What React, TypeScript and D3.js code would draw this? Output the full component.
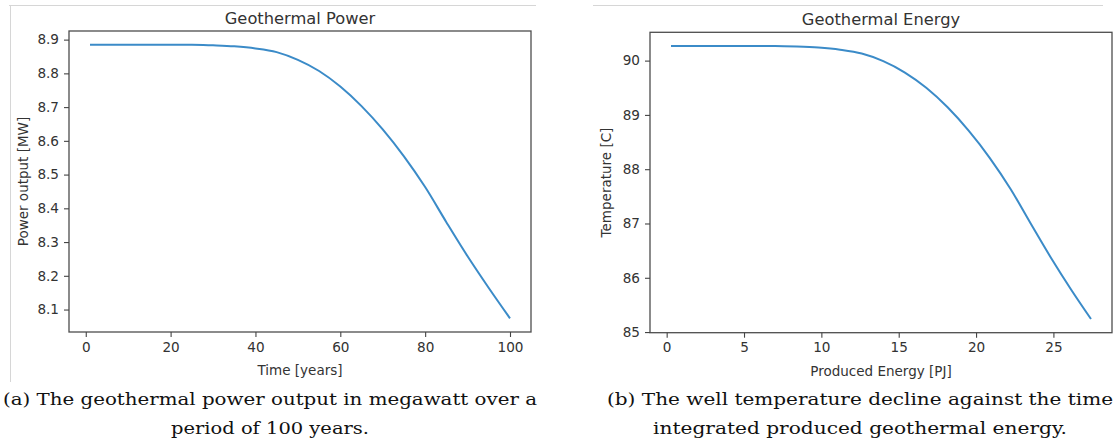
import { useRef, useEffect } from "react";
import * as d3 from "d3";

// Geothermal power over time
const years = [1, 10, 20, 25, 30, 35, 40, 45, 50, 55, 60, 65, 70, 75, 80, 85, 90, 95, 100];
const powerMW = [
    8.885, 8.885, 8.885, 8.885, 8.883, 8.88, 8.874, 8.863, 8.84, 8.807, 8.761, 8.703, 8.634,
    8.554, 8.463, 8.359, 8.258, 8.164, 8.074,
];

// Well temperature against produced energy
const producedPJ = [
    0.28, 2.8, 5.6, 7.0, 8.41, 9.81, 11.21, 12.61, 14.0, 15.4, 16.78, 18.16, 19.52, 20.88, 22.22,
    23.55, 24.86, 26.15, 27.43,
];
const temperatureC = [
    90.27, 90.27, 90.27, 90.27, 90.26, 90.24, 90.2, 90.13, 89.99, 89.78, 89.5, 89.14, 88.71, 88.21,
    87.64, 86.99, 86.36, 85.78, 85.24,
];

const powerXTicks = [0, 20, 40, 60, 80, 100];
const powerYTicks = [8.1, 8.2, 8.3, 8.4, 8.5, 8.6, 8.7, 8.8, 8.9];
const energyXTicks = [0, 5, 10, 15, 20, 25];
const energyYTicks = [85, 86, 87, 88, 89, 90];

const captionA = ["(a) The geothermal power output in megawatt over a", "period of 100 years."];
const captionB = [
    "(b) The well temperature decline against the time",
    "integrated produced geothermal energy.",
];

const SANS = "DejaVu Sans, sans-serif";
const SERIF = "DejaVu Serif, serif";
const TEXT = "#333";
const LINE = "#3b8bc8";

// matplotlib style 5% margin around the data
function padded(values: number[]): [number, number] {
    const [a, b] = d3.extent(values) as [number, number];
    const m = (b - a) * 0.05;
    return [a - m, b + m];
}

interface AxisProps {
    scale: d3.ScaleLinear<number, number>;
    ticks: number[];
    format: (d: number) => string;
    transform?: string;
}

function styleAxis(g: d3.Selection<SVGGElement, unknown, null, undefined>) {
    g.attr("font-size", 13.6).attr("font-family", SANS);
    g.select(".domain").remove();
    g.selectAll(".tick line").attr("stroke", "#444").attr("stroke-width", 1.1);
    g.selectAll(".tick text").attr("fill", TEXT);
}

function AxisBottom({ scale, ticks, format, transform }: AxisProps) {
    const ref = useRef<SVGGElement>(null);
    useEffect(() => {
        if (ref.current) {
            const g = d3.select(ref.current);
            g.call(
                d3
                    .axisBottom(scale)
                    .tickValues(ticks)
                    .tickSize(5)
                    .tickPadding(5)
                    .tickFormat((d) => format(d as number))
            );
            styleAxis(g);
        }
    }, [scale, ticks, format]);
    return <g ref={ref} transform={transform} />;
}

function AxisLeft({ scale, ticks, format }: AxisProps) {
    const ref = useRef<SVGGElement>(null);
    useEffect(() => {
        if (ref.current) {
            const g = d3.select(ref.current);
            g.call(
                d3
                    .axisLeft(scale)
                    .tickValues(ticks)
                    .tickSize(5)
                    .tickPadding(5)
                    .tickFormat((d) => format(d as number))
            );
            styleAxis(g);
        }
    }, [scale, ticks, format]);
    return <g ref={ref} />;
}

interface PanelProps {
    left: number;
    top: number;
    width: number;
    height: number;
    xs: number[];
    ys: number[];
    xTicks: number[];
    yTicks: number[];
    xFormat: (d: number) => string;
    yFormat: (d: number) => string;
    title: string;
    xlabel: string;
    ylabel: string;
    ylabelX: number;
}

function Panel({
    left,
    top,
    width,
    height,
    xs,
    ys,
    xTicks,
    yTicks,
    xFormat,
    yFormat,
    title,
    xlabel,
    ylabel,
    ylabelX,
}: PanelProps) {
    const scaleX = d3.scaleLinear().domain(padded(xs)).range([0, width]);
    const scaleY = d3.scaleLinear().domain(padded(ys)).range([height, 0]);
    const points = xs.map((x, i) => [x, ys[i]] as [number, number]);
    const line = d3
        .line<[number, number]>()
        .x((d) => scaleX(d[0]))
        .y((d) => scaleY(d[1]))
        .curve(d3.curveMonotoneX);

    return (
        <g transform={`translate(${left}, ${top})`}>
            <text
                x={width / 2}
                y={-7.5}
                fontSize={16.3}
                fontFamily={SANS}
                fill={TEXT}
                textAnchor="middle"
            >
                {title}
            </text>
            <path d={line(points) || undefined} fill="none" stroke={LINE} strokeWidth={2} />
            <rect
                width={width}
                height={height}
                fill="none"
                stroke="#4d4d4d"
                strokeWidth={1.3}
            />
            <AxisBottom
                scale={scaleX}
                ticks={xTicks}
                format={xFormat}
                transform={`translate(0, ${height})`}
            />
            <AxisLeft scale={scaleY} ticks={yTicks} format={yFormat} />
            <text
                x={width / 2}
                y={height + 43}
                fontSize={13.5}
                fontFamily={SANS}
                fill={TEXT}
                textAnchor="middle"
            >
                {xlabel}
            </text>
            <text
                transform={`translate(${ylabelX}, ${height / 2}) rotate(-90)`}
                fontSize={13.5}
                fontFamily={SANS}
                fill={TEXT}
                textAnchor="middle"
            >
                {ylabel}
            </text>
        </g>
    );
}

function Caption({ lines, cx, widths }: { lines: string[]; cx: number; widths: number[] }) {
    return (
        <>
            {lines.map((t, i) => (
                <text
                    key={i}
                    x={cx}
                    y={405 + i * 29}
                    fontSize={17}
                    fontFamily={SERIF}
                    fill="#111"
                    textAnchor="middle"
                    textLength={widths[i]}
                    lengthAdjust="spacingAndGlyphs"
                >
                    {t}
                </text>
            ))}
        </>
    );
}

export default function App() {
    const int = (d: number) => d3.format("d")(d);
    const one = (d: number) => d3.format(".1f")(d);

    return (
        <svg
            width={1113}
            height={441}
            style={{ position: "absolute", left: 0, top: 0, background: "#fff" }}
        >
            {/* light frames around the two figure images */}
            <path d="M9,5.5H536M10.5,5V382" stroke="#d6d6d6" strokeWidth={1} fill="none" />
            <path d="M593,5.5H1103" stroke="#d6d6d6" strokeWidth={1} fill="none" />

            <Panel
                left={69}
                top={31}
                width={462}
                height={301}
                xs={years}
                ys={powerMW}
                xTicks={powerXTicks}
                yTicks={powerYTicks}
                xFormat={int}
                yFormat={one}
                title="Geothermal Power"
                xlabel="Time [years]"
                ylabel="Power output [MW]"
                ylabelX={-41}
            />
            <Panel
                left={650}
                top={32.3}
                width={462}
                height={300.4}
                xs={producedPJ}
                ys={temperatureC}
                xTicks={energyXTicks}
                yTicks={energyYTicks}
                xFormat={int}
                yFormat={int}
                title="Geothermal Energy"
                xlabel="Produced Energy [PJ]"
                ylabel="Temperature [C]"
                ylabelX={-39}
            />

            <Caption lines={captionA} cx={270} widths={[534, 198]} />
            <Caption lines={captionB} cx={860} widths={[506, 414]} />
        </svg>
    );
}
